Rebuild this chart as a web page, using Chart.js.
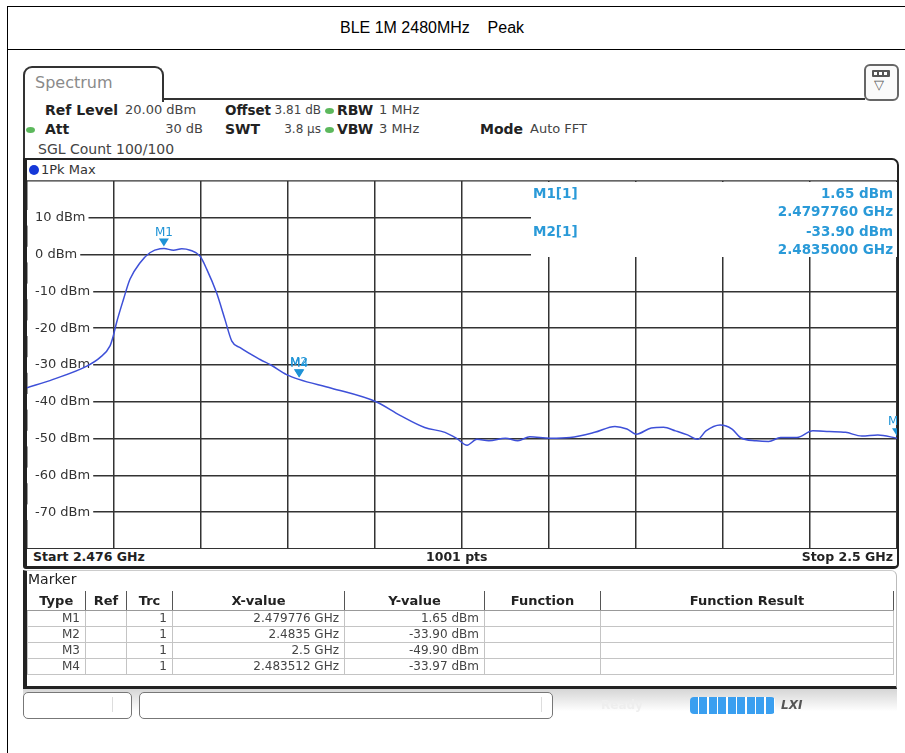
<!DOCTYPE html>
<html>
<head>
<meta charset="utf-8">
<script src="https://cdn.jsdelivr.net/npm/chart.js@4.4.0/dist/chart.umd.min.js"></script>
<style>
body { margin:0; width:905px; height:753px; position:relative; overflow:hidden; background:#fff; font-family:"DejaVu Sans", Verdana, sans-serif; color:#222; }
.a { position:absolute; white-space:pre; line-height:16px; }
.b { font-weight:bold; }
.v { font-size:13px; color:#444; }
.dot { position:absolute; width:9px; height:6px; border-radius:50%; background:#5cb85c; }
.info { position:absolute; font-size:13.5px; font-weight:bold; color:#2a9ad8; line-height:18px; white-space:pre; }
table { border-collapse:collapse; table-layout:fixed; font-size:12px; color:#444; }
td, th { padding:0 5px; height:15px; line-height:15px; border:1px solid #c4c4c4; text-align:right; }
th { height:19px; font-size:13px; color:#222; text-align:center; border:none; border-right:1px solid #555; border-bottom:1px solid #999; }
</style>
</head>
<body>

<!-- outer report frame -->
<div class="a" style="left:7px;top:6px;width:897px;height:760px;border:1px solid #000;"></div>
<div class="a" style="left:7px;top:49px;width:898px;height:0;border-top:1px solid #000;"></div>
<div class="a" style="left:340px;top:19px;font-family:'Liberation Sans',Arial,sans-serif;font-size:16px;line-height:18px;color:#000;">BLE 1M 2480MHz    Peak</div>

<!-- tab -->
<div class="a" style="left:23px;top:66px;width:137px;height:34px;border:2px solid #333;border-bottom:none;border-radius:9px 9px 0 0;"></div>
<div class="a" style="left:35px;top:74px;font-size:16px;line-height:18px;color:#8a8a8a;">Spectrum</div>
<div class="a" style="left:162px;top:98px;width:703px;height:0;border-top:2px solid #333;"></div>
<div class="a" style="left:23px;top:100px;width:2px;height:60px;background:#333;"></div>
<!-- icon -->
<div class="a" style="left:864px;top:64px;width:31px;height:33px;border:2px solid #666;border-radius:6px;background:#fafafa;"></div>
<div class="a" style="left:872px;top:70px;width:18px;height:7px;background:#555;border-radius:1px;"></div>
<div class="a" style="left:874px;top:72px;width:3px;height:3px;background:#fff;"></div>
<div class="a" style="left:879px;top:72px;width:3px;height:3px;background:#fff;"></div>
<div class="a" style="left:884px;top:72px;width:3px;height:3px;background:#fff;"></div>
<div class="a" style="left:874px;top:77px;font-size:13px;color:#555;">▽</div>

<!-- settings -->
<div class="a b" style="left:45px;top:102px;font-size:14px;">Ref Level</div>
<div class="a v" style="left:125px;top:102px;">20.00 dBm</div>
<div class="a b" style="left:225px;top:102px;font-size:13.5px;">Offset</div>
<div class="a v" style="right:584px;top:102px;font-size:12px;">3.81 dB</div>
<div class="dot" style="left:325px;top:108px;"></div>
<div class="a b" style="left:337px;top:102px;font-size:14px;">RBW</div>
<div class="a v" style="left:379px;top:102px;">1 MHz</div>

<div class="dot" style="left:26px;top:127px;"></div>
<div class="a b" style="left:45px;top:121px;font-size:14px;">Att</div>
<div class="a v" style="right:702px;top:121px;">30 dB</div>
<div class="a b" style="left:225px;top:121px;font-size:14px;">SWT</div>
<div class="a v" style="right:584px;top:121px;font-size:12px;">3.8 µs</div>
<div class="dot" style="left:325px;top:127px;"></div>
<div class="a b" style="left:337px;top:121px;font-size:14px;">VBW</div>
<div class="a v" style="left:379px;top:121px;">3 MHz</div>
<div class="a b" style="left:480px;top:121px;font-size:14px;">Mode</div>
<div class="a v" style="left:530px;top:121px;">Auto FFT</div>

<div class="a" style="left:38px;top:141px;font-size:14px;color:#444;">SGL Count 100/100</div>

<!-- plot box -->
<div class="a" style="left:23px;top:158px;width:870px;height:406px;border-top:2px solid #222;border-right:2px solid #222;border-bottom:3px solid #222;border-left:4px solid #222;border-radius:0 7px 5px 3px;"></div>
<div class="a" style="left:29px;top:165px;width:10px;height:10px;border-radius:50%;background:#1538d8;"></div>
<div class="a" style="left:41px;top:162px;font-size:13px;color:#333;">1Pk Max</div>
<div class="a" style="left:27px;top:180px;width:870px;height:1px;background:#666;"></div>

<canvas id="spec" width="870" height="368" style="position:absolute;left:27px;top:181px;"></canvas>

<!-- marker readout over the grid -->
<div class="a" style="left:531px;top:182px;width:366px;height:75px;background:#fff;"></div>
<div class="info" style="left:533px;top:184px;">M1[1]</div>
<div class="info" style="right:12px;top:184px;">1.65 dBm</div>
<div class="info" style="right:12px;top:202px;">2.4797760 GHz</div>
<div class="info" style="left:533px;top:222px;">M2[1]</div>
<div class="info" style="right:12px;top:222px;">-33.90 dBm</div>
<div class="info" style="right:12px;top:240px;">2.4835000 GHz</div>

<!-- sweep footer -->
<div class="a" style="left:27px;top:548px;width:870px;height:1px;background:#333;"></div>
<div class="a b" style="left:33px;top:549px;font-size:12.5px;">Start 2.476 GHz</div>
<div class="a b" style="left:426px;top:549px;font-size:12.5px;">1001 pts</div>
<div class="a b" style="right:12px;top:549px;font-size:12.5px;">Stop 2.5 GHz</div>

<!-- marker table -->
<div class="a" style="left:23px;top:570px;width:869px;height:115px;border-left:4px solid #222;border-right:1px solid #bbb;border-top:1px solid #ccc;border-bottom:3px solid #222;border-radius:0 6px 0 0;"></div>
<div class="a" style="left:28px;top:571px;font-size:14px;color:#222;">Marker</div>
<table class="a" style="left:27px;top:591px;width:866px;">
<colgroup><col style="width:58px"><col style="width:41px"><col style="width:46px"><col style="width:172px"><col style="width:140px"><col style="width:116px"><col style="width:293px"></colgroup>
<tr><th>Type</th><th>Ref</th><th>Trc</th><th>X-value</th><th>Y-value</th><th>Function</th><th>Function Result</th></tr>
<tr><td>M1</td><td></td><td>1</td><td>2.479776 GHz</td><td>1.65 dBm</td><td></td><td></td></tr>
<tr><td>M2</td><td></td><td>1</td><td>2.4835 GHz</td><td>-33.90 dBm</td><td></td><td></td></tr>
<tr><td>M3</td><td></td><td>1</td><td>2.5 GHz</td><td>-49.90 dBm</td><td></td><td></td></tr>
<tr><td>M4</td><td></td><td>1</td><td>2.483512 GHz</td><td>-33.97 dBm</td><td></td><td></td></tr>
</table>

<!-- status bar -->
<div class="a" style="left:23px;top:689px;width:874px;height:32px;background:linear-gradient(#d6d6d6,#fff 70%);"></div>
<div class="a" style="left:23px;top:692px;width:107px;height:25px;border:1px solid #777;border-radius:5px;background:#fff;"></div>
<div class="a" style="left:112px;top:697px;width:1px;height:15px;background:#ddd;"></div>
<div class="a" style="left:139px;top:692px;width:412px;height:25px;border:1px solid #777;border-radius:5px;background:#fff;"></div>
<div class="a" style="left:541px;top:697px;width:1px;height:15px;background:#ddd;"></div>
<div class="a b" style="left:601px;top:697px;font-size:12px;color:#eee;">Ready</div>
<div class="a" style="left:690px;top:697px;width:85px;height:17px;border-radius:4px;background:repeating-linear-gradient(90deg,#3a9ff0 0 8px,#fff 8px 9.5px);"></div>
<div class="a b" style="left:781px;top:697px;font-size:12px;font-style:italic;color:#555;">LXI</div>

<script>
// trace (frequency in MHz, level in dBm)
var freqs = [2476.00, 2476.72, 2477.65, 2478.01, 2478.29, 2478.38, 2478.47, 2478.66, 2478.84, 2479.12,
  2479.39, 2479.67, 2479.78, 2480.04, 2480.27, 2480.50, 2480.77, 2480.96, 2481.23, 2481.46,
  2481.65, 2481.88, 2482.43, 2482.73, 2483.16, 2483.50, 2484.40, 2485.63, 2486.29, 2486.97,
  2487.53, 2487.86, 2488.14, 2488.41, 2488.74, 2489.20, 2489.54, 2489.87, 2490.43, 2490.98,
  2491.66, 2492.22, 2492.55, 2492.81, 2493.22, 2493.56, 2493.89, 2494.22, 2494.50, 2494.73,
  2495.12, 2495.45, 2495.68, 2496.12, 2496.46, 2496.79, 2497.24, 2497.68, 2498.13, 2498.58,
  2499.03, 2499.47, 2500.00];
var levels = [-36.2, -33.9, -30.3, -28.0, -24.8, -22.1, -18.5, -12.2, -6.7, -2.2,
  0.5, 1.6, 1.65, 1.2, 1.6, 1.2, -0.4, -4.0, -10.4, -17.6,
  -23.5, -25.3, -28.5, -30.0, -32.6, -33.9, -36.3, -40.0, -43.7, -47.0,
  -48.3, -50.0, -51.8, -50.2, -50.6, -49.9, -50.6, -49.5, -49.9, -49.7,
  -48.3, -46.7, -47.4, -48.8, -47.1, -46.9, -47.9, -49.0, -50.2, -47.9,
  -46.3, -47.4, -49.7, -50.6, -50.8, -49.7, -49.7, -47.9, -48.1, -48.3,
  -49.3, -49.0, -49.9];

var markerNames = ['M1', 'M2', 'M3', 'M4'];
var markerFreqs = [2479.776, 2483.5, 2500.0, 2483.512];
var markerLevels = [1.65, -33.90, -49.90, -33.97];

var yTicks = [10, 0, -10, -20, -30, -40, -50, -60, -70];

// little down-pointing triangles with the marker name on top
var markerPlugin = {
  id: 'markers',
  afterDatasetsDraw: function (chart) {
    var ctx = chart.ctx;
    var x = chart.scales.x, y = chart.scales.y;
    ctx.save();
    ctx.fillStyle = '#1e93d6';
    ctx.font = '12px "DejaVu Sans"';
    ctx.textAlign = 'center';
    ctx.textBaseline = 'bottom';
    for (var i = 0; i < markerNames.length; i++) {
      var px = x.getPixelForValue(markerFreqs[i]);
      var py = y.getPixelForValue(markerLevels[i]);
      ctx.beginPath();
      ctx.moveTo(px - 5, py - 10);
      ctx.lineTo(px + 5, py - 10);
      ctx.lineTo(px, py - 2);
      ctx.closePath();
      ctx.fill();
      ctx.fillText(markerNames[i], px, py - 10);
    }
    ctx.restore();
  }
};

var points = freqs.map(function (f, i) { return { x: f, y: levels[i] }; });

new Chart(document.getElementById('spec').getContext('2d'), {
  type: 'line',
  data: {
    datasets: [{
      data: points,
      borderColor: '#3e50d8',
      borderWidth: 1.5,
      pointRadius: 0,
      fill: false,
      cubicInterpolationMode: 'monotone'
    }]
  },
  options: {
    responsive: false,
    animation: false,
    layout: { padding: 0 },
    plugins: { legend: { display: false }, tooltip: { enabled: false } },
    scales: {
      x: {
        type: 'linear', min: 2476, max: 2500,
        ticks: { display: false, stepSize: 2.4 },
        grid: { color: '#333', lineWidth: 1.5, drawTicks: false },
        border: { display: false },
        afterFit: function (s) { s.height = 0; s.paddingLeft = 0; s.paddingRight = 0; }
      },
      y: {
        min: -80, max: 20,
        ticks: {
          stepSize: 10,
          mirror: true,
          padding: 8,
          color: '#333',
          font: { family: 'DejaVu Sans', size: 13 },
          showLabelBackdrop: true,
          backdropColor: function (c) { return yTicks.indexOf(c.tick.value) >= 0 ? '#fff' : 'rgba(0,0,0,0)'; },
          backdropPadding: { top: 0, bottom: 0, left: 9, right: 3 },
          callback: function (v) { return yTicks.indexOf(v) >= 0 ? v + ' dBm' : ''; }
        },
        grid: { color: '#333', lineWidth: 1.5, drawTicks: false },
        border: { display: false },
        afterFit: function (s) { s.width = 0; s.paddingTop = 0; s.paddingBottom = 0; }
      }
    }
  },
  plugins: [markerPlugin]
});
</script>
</body>
</html>
